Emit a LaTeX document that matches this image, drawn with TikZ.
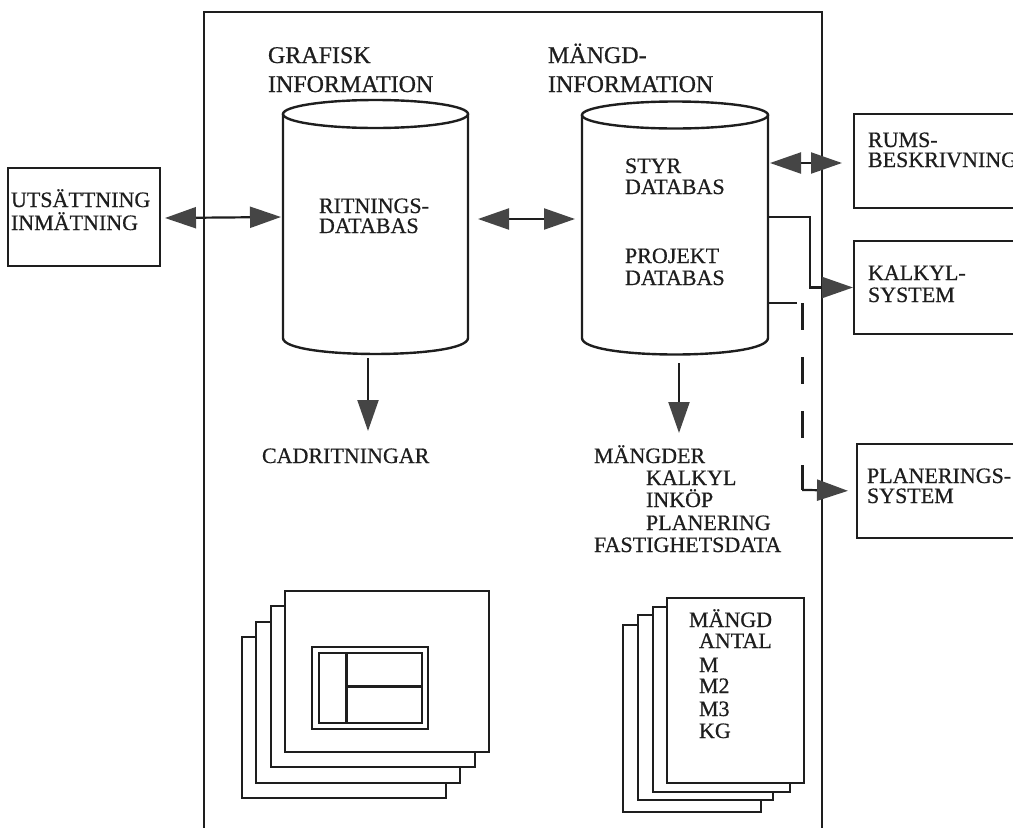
\documentclass[tikz,border=0pt]{standalone}
\usepackage{fontspec}
\setmainfont{Liberation Serif}[FakeBold=0.6]
\usetikzlibrary{arrows.meta}
\definecolor{ink}{HTML}{1E1E1E}
\definecolor{headfill}{HTML}{454545}
\begin{document}
\begin{tikzpicture}[x=1pt,y=-1pt,line width=2pt,color=ink,
  >={Triangle[length=31pt,width=21pt,fill=headfill,color=headfill]},
  txt/.style={anchor=base west,inner sep=0pt,font=\fontsize{22}{22}\selectfont,text=ink},
  head/.style={txt,font=\fontsize{24}{24}\selectfont},
  box/.style={draw=ink,line width=2pt,inner sep=0pt,anchor=north west,fill=white},
  sheet/.style={draw=ink,line width=2pt,fill=white},
  conn/.style={line width=2.2pt,draw=ink},
  dashconn/.style={line width=3pt,draw=ink,dash pattern=on 27pt off 27pt}]
\useasboundingbox (0,0) rectangle (1013,828);
\clip (0,0) rectangle (1013,828);
% outer frame
\draw (204,828) -- (204,12) -- (822,12) -- (822,828);
% cylinders
\draw[line width=2.4pt] (375.5,114) ellipse [x radius=92.5, y radius=14];
\draw[line width=2.4pt] (283,114) -- (283,338) .. controls (283,359.3) and (468,359.3) .. (468,338) -- (468,114);
\draw[line width=2.4pt] (675,115) ellipse [x radius=93, y radius=13.5];
\draw[line width=2.4pt] (582,115) -- (582,338) .. controls (582,360) and (768,360) .. (768,338) -- (768,115);
% headings
\node[head] (gr1) at (267,63) {GRAFISK};
\node[head] (gr2) at (267,92) {INFORMATION};
\node[head] (mg1) at (547,63) {MÄNGD-};
\node[head] (mg2) at (547,92) {INFORMATION};
% cylinder texts
\node[txt] (rit1) at (318,213) {RITNINGS-};
\node[txt] (rit2) at (318,233) {DATABAS};
\node[txt] (sty1) at (624,173) {STYR};
\node[txt] (sty2) at (624,194) {DATABAS};
\node[txt] (pro1) at (624,263) {PROJEKT};
\node[txt] (pro2) at (624,285) {DATABAS};
% outside boxes
\node[box,minimum width=152pt,minimum height=98pt] (uts) at (7,167) {};
\node[txt] (uts1) at (10,207) {UTSÄTTNING};
\node[txt] (uts2) at (10,230) {INMÄTNING};
\node[box,minimum width=180pt,minimum height=94pt] (rums) at (853,113) {};
\node[txt] (rums1) at (867,147) {RUMS-};
\node[txt] (rums2) at (867,167) {BESKRIVNING};
\node[box,minimum width=180pt,minimum height=93pt] (kalk) at (853,240) {};
\node[txt] (kalk1) at (867,280) {KALKYL-};
\node[txt] (kalk2) at (867,302) {SYSTEM};
\node[box,minimum width=180pt,minimum height=94pt] (plan) at (856,443) {};
\node[txt] (plan1) at (866,483) {PLANERINGS-};
\node[txt] (plan2) at (866,503) {SYSTEM};
% output texts
\node[txt] (cad) at (261,463) {CADRITNINGAR};
\node[txt] (mo1) at (593,463) {MÄNGDER};
\node[txt] (mo2) at (645,485) {KALKYL};
\node[txt] (mo3) at (645,507) {INKÖP};
\node[txt] (mo4) at (645,530) {PLANERING};
\node[txt] (mo5) at (593,552) {FASTIGHETSDATA};
% connector points
\coordinate (lcylW) at (281,217);
\coordinate (lcylE) at (478,219);
\coordinate (rcylW) at (575,219);
\coordinate (rE1) at (770,163);
\coordinate (rE1t) at (842,163);
\coordinate (rE2) at (768,217);
\coordinate (rE2b) at (810,217);
\coordinate (rE3) at (768,303);
\coordinate (rE3b) at (797,303);
\coordinate (dTop) at (802,303);
\coordinate (dBot) at (802,490);
\coordinate (lS) at (368,358);
\coordinate (lSt) at (368,431);
\coordinate (rS) at (679,363);
\coordinate (rSt) at (679,433);
% connectors
\draw[conn,<->] (uts.east) ++(4,1) -- (lcylW);
\draw[conn,<->] (lcylE) -- (rcylW);
\draw[conn,<->] (rE1) -- (rE1t);
\draw[conn,->] (rE2) -- (rE2b) |- (kalk.west);
\draw[conn] (rE3) -- (rE3b);
\draw[dashconn] (dTop) -- (dBot);
\draw[conn,->,shorten >=8pt] (dBot) -- ++(6,0) -- (plan.west);
\draw[conn,->] (lS) -- (lSt);
\draw[conn,->] (rS) -- (rSt);
% left sheet stack
\foreach \k in {3,2,1,0}{
  \draw[sheet] ({285-14.3*\k},{591+15.3*\k}) rectangle ++(204,161);
}
\draw[line width=1.6pt] (312,647) rectangle (428,729);
\draw[line width=1.6pt] (319,653) rectangle (422,723);
\draw[line width=3pt] (346,653) -- (346,723);
\draw[line width=3pt] (346,686) -- (422,686);
% right sheet stack
\draw[sheet] (623,625) rectangle (761,812);
\draw[sheet] (638,615) rectangle (773,800);
\draw[sheet] (653,607) rectangle (790,792);
\draw[sheet] (667,598) rectangle (804,783);
\node[txt] (q1) at (688,627) {MÄNGD};
\node[txt] (q2) at (698,648) {ANTAL};
\node[txt] (q3) at (698,672) {M};
\node[txt] (q4) at (698,693) {M2};
\node[txt] (q5) at (698,716) {M3};
\node[txt] (q6) at (698,738) {KG};
\end{tikzpicture}
\end{document}
